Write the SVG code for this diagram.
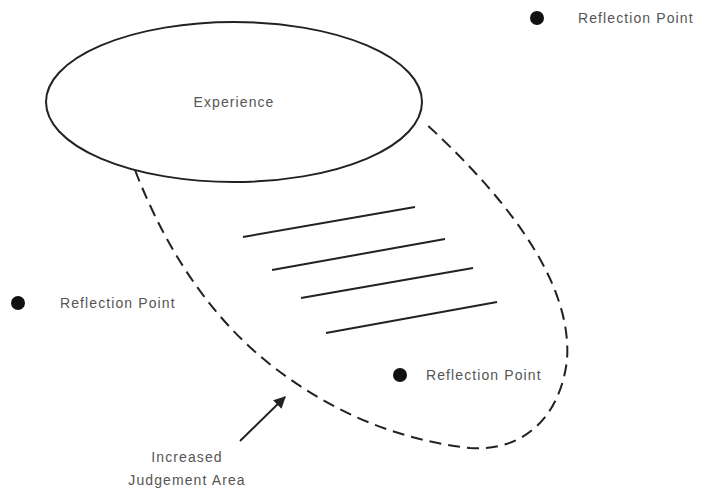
<svg xmlns="http://www.w3.org/2000/svg" width="705" height="490" viewBox="0 0 705 490">
  <defs>
    <style>
      .lbl { font-family: "Liberation Sans", "DejaVu Sans", sans-serif; font-size: 14px; fill: #555; letter-spacing: 1.1px; }
      .dot { fill: #111; }
      .line { stroke: #222; stroke-width: 2; fill: none; }
      .dash { stroke: #222; stroke-width: 2; fill: none; stroke-dasharray: 12 7; }
    </style>
    <marker id="arrow" viewBox="0 0 10 10" refX="9" refY="5" markerWidth="6" markerHeight="6" orient="auto">
      <path d="M0,0 L10,5 L0,10 z" fill="#222"/>
    </marker>
  </defs>
  <rect width="705" height="490" fill="#fff"/>

  <g id="connectors">
    <!-- increased judgement area outline -->
    <path class="dash" d="M135,170 C170,260 220,330 287,377 C340,415 400,440 470,448 C520,452 560,420 567,360 C572,290 520,210 424,122"/>
    <!-- hatching -->
    <line class="line" x1="243" y1="237" x2="415" y2="207"/>
    <line class="line" x1="272" y1="270" x2="445" y2="239"/>
    <line class="line" x1="301" y1="298" x2="473" y2="268"/>
    <line class="line" x1="326" y1="333" x2="497" y2="302"/>
    <!-- pointer arrow -->
    <line class="line" x1="240" y1="441" x2="285" y2="397" marker-end="url(#arrow)"/>
  </g>

  <g id="experience">
    <ellipse cx="234" cy="102" rx="188" ry="80" fill="#fff" stroke="#222" stroke-width="2"/>
    <text class="lbl" x="234" y="107" text-anchor="middle" letter-spacing="0.3">Experience</text>
  </g>

  <g id="reflection-top">
    <circle class="dot" cx="537" cy="18" r="7"/>
    <text class="lbl" x="578" y="23">Reflection Point</text>
  </g>

  <g id="reflection-left">
    <circle class="dot" cx="18" cy="303" r="7"/>
    <text class="lbl" x="60" y="308">Reflection Point</text>
  </g>

  <g id="reflection-inner">
    <circle class="dot" cx="400" cy="375" r="7"/>
    <text class="lbl" x="426" y="380">Reflection Point</text>
  </g>

  <g id="judgement-label">
    <text class="lbl" x="187" y="462" text-anchor="middle">Increased</text>
    <text class="lbl" x="187" y="485" text-anchor="middle">Judgement Area</text>
  </g>
</svg>
